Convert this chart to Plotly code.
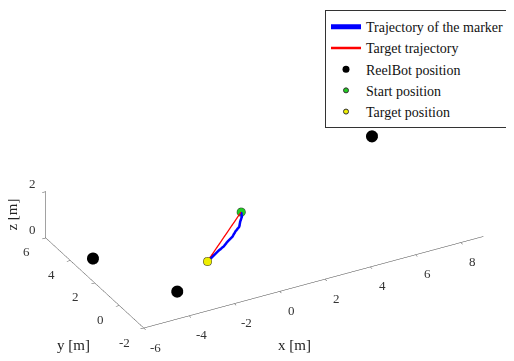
import plotly.graph_objects as go

# Trajectory of the marker (blue)
traj_x = [0.30, 0.28, 0.17, 0.09, -0.09, -0.24, -0.45, -0.64, -0.89, -1.11, -1.35]
traj_y = [1.70, 1.60, 1.54, 1.46, 1.45, 1.40, 1.41, 1.38, 1.40, 1.39, 1.40]
traj_z = [1.55, 1.40, 1.24, 1.09, 0.93, 0.78, 0.62, 0.47, 0.31, 0.16, 0.00]

# Target trajectory (red)
target_x = [0.30, -1.35]
target_y = [1.70, 1.40]
target_z = [1.55, 0.00]

# ReelBot positions
reel_x = [-5.15, -3.5, 8.4]
reel_y = [3.73, -0.1, 6.0]
reel_z = [0.0, 0.0, 0.6]

start_pos = [0.30, 1.70, 1.55]
target_pos = [-1.35, 1.40, 0.00]

x_ticks = [-6, -4, -2, 0, 2, 4, 6, 8]
y_ticks = [-2, 0, 2, 4, 6]
z_ticks = [0, 2]

font = "Liberation Serif"

fig = go.Figure()
fig.add_trace(go.Scatter3d(x=traj_x, y=traj_y, z=traj_z, mode="lines",
                           line=dict(color="#0000ff", width=5),
                           name="Trajectory of the marker<span style='color:rgba(0,0,0,0)'>....</span>"))
fig.add_trace(go.Scatter3d(x=target_x, y=target_y, z=target_z, mode="lines",
                           line=dict(color="#ff0000", width=2.5),
                           name="Target trajectory"))
fig.add_trace(go.Scatter3d(x=reel_x, y=reel_y, z=reel_z, mode="markers",
                           marker=dict(color="black", size=7),
                           name="ReelBot position"))
fig.add_trace(go.Scatter3d(x=[start_pos[0]], y=[start_pos[1]], z=[start_pos[2]], mode="markers",
                           marker=dict(color="#22cc22", size=5, line=dict(color="#333333", width=1)),
                           name="Start position"))
fig.add_trace(go.Scatter3d(x=[target_pos[0]], y=[target_pos[1]], z=[target_pos[2]], mode="markers",
                           marker=dict(color="#eeee00", size=5, line=dict(color="#333333", width=1)),
                           name="Target position"))

def ax(rng, ticks):
    return dict(title=dict(text=""),
                range=rng, tickvals=ticks, showgrid=False, showbackground=False,
                zeroline=False, showline=True, linecolor="#444", linewidth=1,
                ticks="outside", ticklen=4, tickcolor="#444",
                showticklabels=False, showspikes=False)

title_font = dict(family=font, size=15, color="#222")
tick_font = dict(family=font, size=13, color="#333")

annotations = [
    dict(x=1.0, y=-2, z=0, text="x [m]", showarrow=False, yshift=-60, xshift=-8, font=title_font),
    dict(x=-6, y=-1, z=0, text="y [m]", showarrow=False, yshift=-28, xshift=-58, font=title_font),
    dict(x=-6, y=6, z=1, text="z [m]", showarrow=False, xshift=-34, textangle=-90, font=title_font),
]
for v in x_ticks:
    annotations.append(dict(x=v, y=-2, z=0, text=str(v), showarrow=False,
                            xshift=12, yshift=-19, font=tick_font))
for v in y_ticks:
    annotations.append(dict(x=-6, y=v, z=0, text=str(v), showarrow=False,
                            xshift=-19, yshift=-14, font=tick_font))
for v in z_ticks:
    annotations.append(dict(x=-6, y=6, z=v, text=str(v), showarrow=False,
                            xshift=-13, yshift=8, font=tick_font))

fig.update_layout(
    width=514, height=361,
    margin=dict(l=0, r=0, t=0, b=0),
    paper_bgcolor="white",
    scene=dict(
        domain=dict(x=[0.0, 1.0], y=[0.0, 1.0]),
        xaxis=ax([-6, 9], x_ticks),
        yaxis=ax([-2, 6], y_ticks),
        zaxis=ax([0, 2], z_ticks),
        aspectmode="manual",
        aspectratio=dict(x=2.14, y=1.14, z=0.296),
        camera=dict(projection=dict(type="orthographic"),
                    eye=dict(x=-0.41, y=-0.709, z=0.633),
                    center=dict(x=-0.02, y=0.011, z=0.163),
                    up=dict(x=0, y=0, z=1)),
        annotations=annotations,
    ),
    legend=dict(x=0.628, y=0.994, xanchor="left", yanchor="top",
                bgcolor="white", bordercolor="#333", borderwidth=1,
                font=dict(family=font, size=14, color="#111"),
                tracegroupgap=0),
    showlegend=True,
)

fig.write_html("out.html")
